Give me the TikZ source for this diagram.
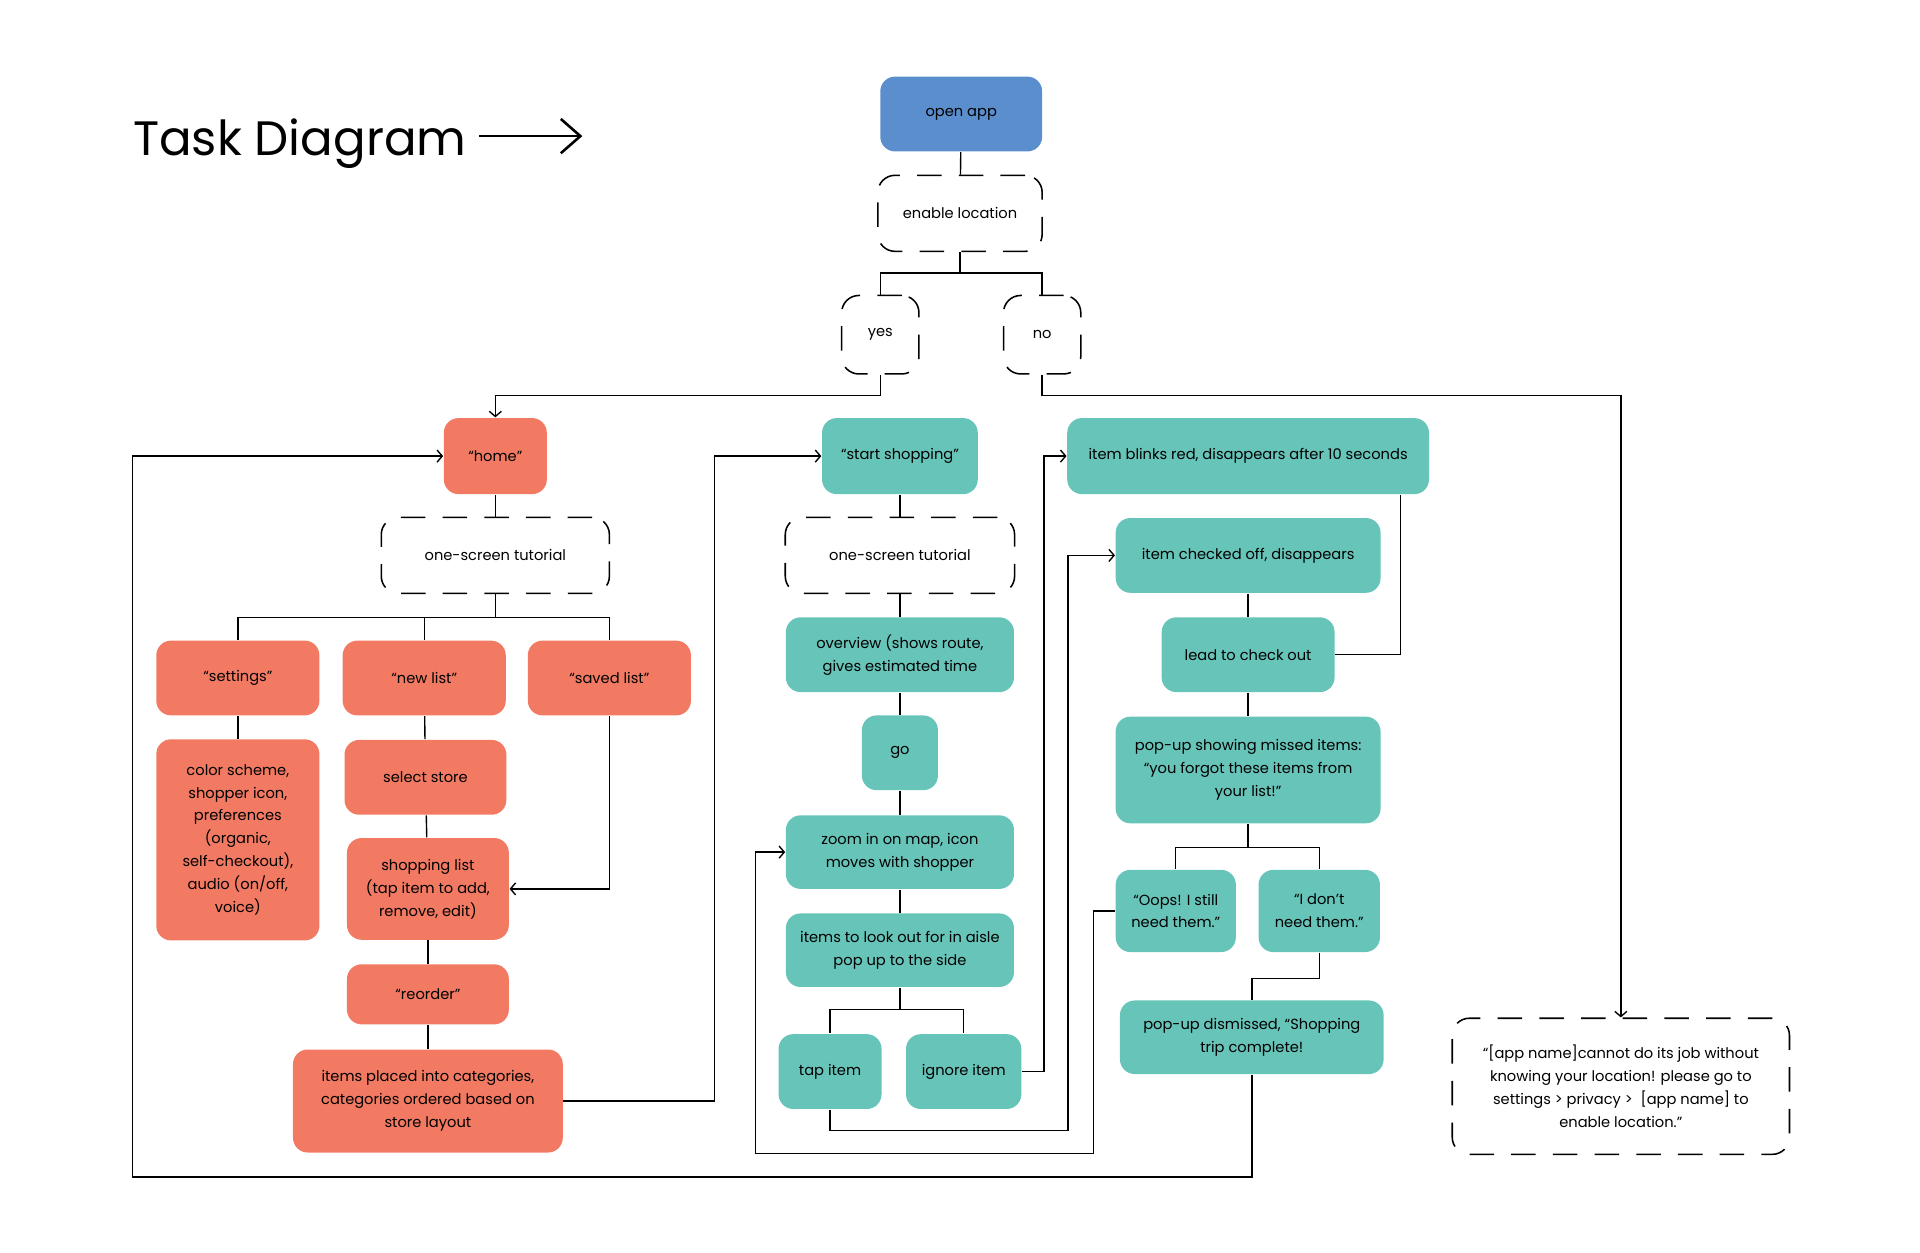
\documentclass[tikz,border=0pt]{standalone}
\usepackage{fontspec}
\setmainfont{Poppins}
\usetikzlibrary{arrows.meta}
\definecolor{appblue}{HTML}{5A8ECC}
\definecolor{salmon}{HTML}{F27A63}
\definecolor{mint}{HTML}{67C4B9}
\begin{document}
\begin{tikzpicture}[
        x=0.025cm, y=-0.025cm,
        line width=0.8pt,
        >={Straight Barb[length=3pt, width=7pt]},
        every node/.style={font=\fontsize{8.5}{13.3}\selectfont, align=center, inner sep=0pt},
        bluebox/.style={fill=appblue, rounded corners=0.3cm},
        salmonbox/.style={fill=salmon, rounded corners=0.3cm},
        mintbox/.style={fill=mint, rounded corners=0.3cm},
        dashbox/.style={draw, line width=0.9pt, dash pattern=on 0.5cm off 0.35cm, rounded corners=0.35cm}
    ]
        \useasboundingbox (0,0) rectangle (1566,1021.2);

        % Tiêu đề
        \node[anchor=base west, font=\fontsize{28}{34}\selectfont] (title) at (108,127) {Task Diagram};
        \coordinate (titleend) at (475,111);
        \draw[-{Straight Barb[length=0.4cm, width=0.7cm]}, line width=1.5pt] (title.east |- titleend) ++(10,0) -- (titleend);

        % Phần đầu
        \node[bluebox, minimum width=3.3cm, minimum height=1.525cm] (open) at (784,93) {open app};
        \node[dashbox, minimum width=3.35cm, minimum height=1.55cm] (enable) at (783,174) {enable location};
        \node[dashbox, minimum width=1.575cm, minimum height=1.6cm] (yes) at (718,273) {yes};
        \node[dashbox, minimum width=1.575cm, minimum height=1.6cm] (no) at (850,273) {no};
        \node[dashbox, minimum width=6.875cm, minimum height=2.775cm] (dialog) at (1322,886)
            {“[app name]cannot do its job without\\knowing your location! please go to\\settings > privacy >\ \ [app name] to\\enable location.”};

        % Nhánh home
        \node[salmonbox, minimum width=2.1cm, minimum height=1.55cm] (home) at (404,372) {“home”};
        \node[dashbox, minimum width=4.65cm, minimum height=1.55cm] (tut1) at (404,453) {one-screen tutorial};
        \node[salmonbox, minimum width=3.325cm, minimum height=1.525cm] (settings) at (194,553) {“settings”};
        \node[salmonbox, minimum width=3.325cm, minimum height=1.525cm] (newlist) at (346,553) {“new list”};
        \node[salmonbox, minimum width=3.325cm, minimum height=1.525cm] (saved) at (497,553) {“saved list”};
        \node[salmonbox, minimum width=3.325cm, minimum height=4.1cm] (colors) at (194,685)
            {color scheme,\\shopper icon,\\preferences\\(organic,\\self-checkout),\\audio (on/off,\\voice)};
        \node[salmonbox, minimum width=3.3cm, minimum height=1.525cm] (store) at (347,634) {select store};
        \node[salmonbox, minimum width=3.3cm, minimum height=2.075cm] (shoplist) at (349,725)
            {shopping list\\(tap item to add,\\remove, edit)};
        \node[salmonbox, minimum width=3.3cm, minimum height=1.225cm] (reorder) at (349,811) {“reorder”};
        \node[salmonbox, minimum width=5.5cm, minimum height=2.1cm] (placed) at (349,898)
            {items placed into categories,\\categories ordered based on\\store layout};

        % Nhánh start shopping
        \node[mintbox, minimum width=3.175cm, minimum height=1.55cm] (start) at (734,372) {“start shopping”};
        \node[dashbox, minimum width=4.675cm, minimum height=1.55cm] (tut2) at (734,453) {one-screen tutorial};
        \node[mintbox, minimum width=4.65cm, minimum height=1.525cm] (overview) at (734,534)
            {overview (shows route,\\gives estimated time};
        \node[mintbox, minimum width=1.55cm, minimum height=1.525cm] (go) at (734,614) {go};
        \node[mintbox, minimum width=4.65cm, minimum height=1.5cm] (zoom) at (734,695)
            {zoom in on map, icon\\moves with shopper};
        \node[mintbox, minimum width=4.65cm, minimum height=1.5cm] (lookout) at (734,775)
            {items to look out for in aisle\\pop up to the side};
        \node[mintbox, minimum width=2.1cm, minimum height=1.525cm] (tap) at (677,874) {tap item};
        \node[mintbox, minimum width=2.35cm, minimum height=1.525cm] (ignore) at (786,874) {ignore item};

        % Nhánh thanh toán
        \node[mintbox, minimum width=7.375cm, minimum height=1.55cm] (blinks) at (1018,372)
            {item blinks red, disappears after 10 seconds};
        \node[mintbox, minimum width=5.4cm, minimum height=1.525cm] (checked) at (1018,453) {item checked off, disappears};
        \node[mintbox, minimum width=3.525cm, minimum height=1.525cm] (lead) at (1018,534) {lead to check out};
        \node[mintbox, minimum width=5.4cm, minimum height=2.175cm] (missed) at (1018,628)
            {pop-up showing missed items:\\“you forgot these items from\\your list!”};
        \node[mintbox, minimum width=2.45cm, minimum height=1.675cm] (oops) at (959,743) {“Oops! I still\\need them.”};
        \node[mintbox, minimum width=2.475cm, minimum height=1.675cm] (dont) at (1076,743) {“I don’t\\need them.”};
        \node[mintbox, minimum width=5.375cm, minimum height=1.5cm] (dismissed) at (1021,846)
            {pop-up dismissed, “Shopping\\trip complete!};

        % Điểm rẽ
        \coordinate (loopcorner) at (108,960);
        \coordinate (tapturn) at (871,922);
        \coordinate (oopsturn) at (892,941);
        \coordinate (oopsleft) at (616,941);

        % Các liên kết
        \draw (open) -- (enable);
        \draw (enable.south) -- ++(0,17) -| (yes.north);
        \draw (enable.south) ++(0,17) -| (no.north);
        \draw[->] (yes.south) -- ++(0,17) -| (home.north);
        \draw[->] (no.south) -- ++(0,17) -| (dialog.north);

        \draw (home) -- (tut1);
        \draw (tut1.south) -- ++(0,19) -| (settings.north);
        \draw (tut1.south) ++(0,19) -| (newlist.north);
        \draw (tut1.south) ++(0,19) -| (saved.north);
        \draw (settings) -- (colors);
        \draw (newlist) -- (store);
        \draw (store) -- (shoplist);
        \draw (shoplist) -- (reorder);
        \draw (reorder) -- (placed);
        \draw[->] (saved.south) |- (shoplist.east);
        \draw[->] (placed.east) -- ++(123,0) |- (start.west);

        \draw (start) -- (tut2);
        \draw (tut2) -- (overview);
        \draw (overview) -- (go);
        \draw (go) -- (zoom);
        \draw (zoom) -- (lookout);
        \draw (lookout.south) -- ++(0,18) -| (tap.north);
        \draw (lookout.south) ++(0,18) -| (ignore.north);
        \draw[->] (ignore.east) -- ++(18,0) |- (blinks.west);
        \draw[->] (tap.south) |- (tapturn) |- (checked.west);

        \draw ([xshift=-0.6cm]blinks.south east) |- (lead.east);
        \draw (checked) -- (lead);
        \draw (lead) -- (missed);
        \draw (missed.south) -- ++(0,19) -| (oops.north);
        \draw (missed.south) ++(0,19) -| (dont.north);
        \draw (dont.south) -- ++(0,21) -| (dismissed.north);
        \draw[->] (oops.west) -| (oopsturn) -- (oopsleft) |- (zoom.west);
        \draw[->] (dismissed.south) |- (loopcorner) |- (home.west);
    \end{tikzpicture}
\end{document}
